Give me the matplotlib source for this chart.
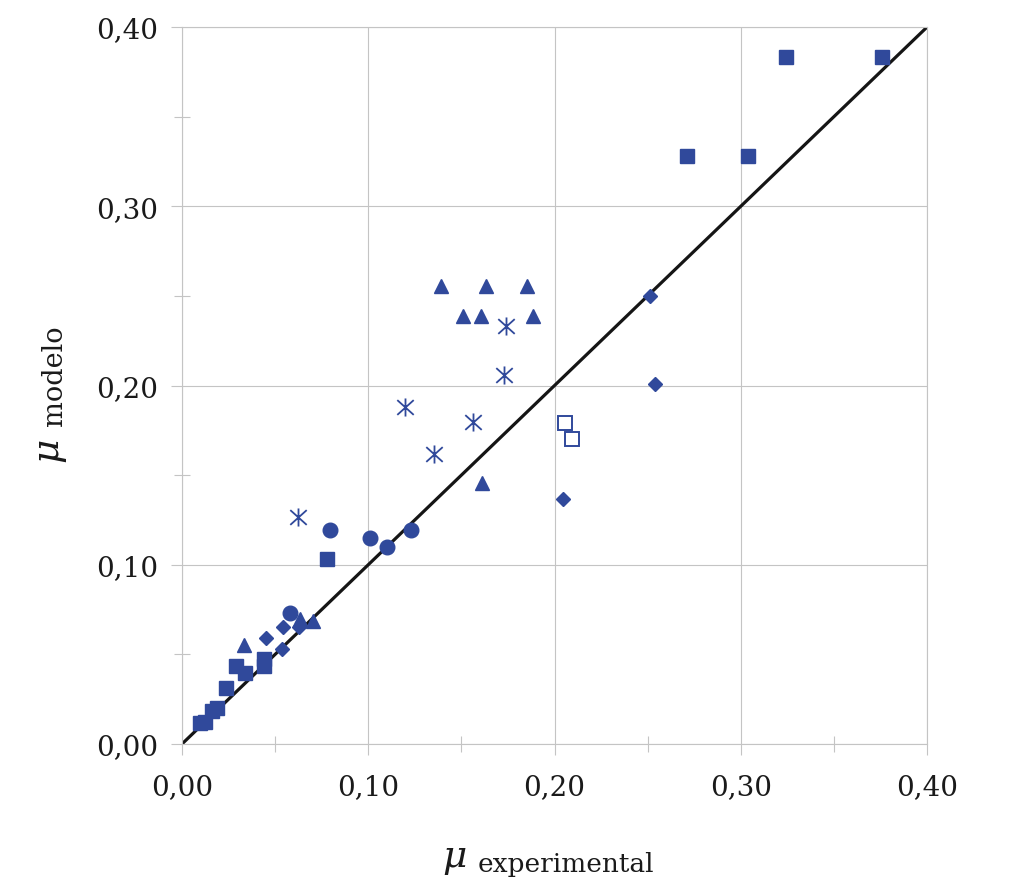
import matplotlib
matplotlib.use('Agg')
import matplotlib.pyplot as plt
from matplotlib.path import Path
from matplotlib.ticker import MultipleLocator

# data (mu experimental, mu modelo)
sq_x = [0.0097, 0.0123, 0.0161, 0.0188, 0.0236, 0.0290, 0.0338, 0.0440, 0.0440, 0.0779, 0.2711, 0.3039, 0.3243, 0.3758]
sq_y = [0.0117, 0.0123, 0.0184, 0.0201, 0.0312, 0.0435, 0.0396, 0.0474, 0.0435, 0.1032, 0.3280, 0.3280, 0.3833, 0.3833]

circ_x = [0.0580, 0.0795, 0.1009, 0.1101, 0.1230]
circ_y = [0.0731, 0.1194, 0.1149, 0.1099, 0.1194]

tri_x = [0.0333, 0.0634, 0.0703, 0.1391, 0.1632, 0.1852, 0.1509, 0.1605, 0.1885, 0.1611]
tri_y = [0.0552, 0.0697, 0.0686, 0.2555, 0.2555, 0.2555, 0.2388, 0.2388, 0.2388, 0.1456]

dia_x = [0.0451, 0.0542, 0.0537, 0.0628, 0.2046, 0.2513, 0.2540]
dia_y = [0.0591, 0.0653, 0.0530, 0.0653, 0.1367, 0.2499, 0.2008]

ast_x = [0.0623, 0.1197, 0.1353, 0.1562, 0.1729, 0.1740]
ast_y = [0.1266, 0.1880, 0.1618, 0.1796, 0.2059, 0.2332]

open_x = [0.2056, 0.2094]
open_y = [0.1791, 0.1702]

ident = [0.0, 0.40]
tick_vals = [0.0, 0.10, 0.20, 0.30, 0.40]
tick_labels = ['0,00', '0,10', '0,20', '0,30', '0,40']

blue = '#30499b'
grey = '#c4c4c4'
serif = 'DejaVu Serif'

# excel-style asterisk: X plus a vertical bar
star = Path([(-1, -0.9), (1, 0.9), (-1, 0.9), (1, -0.9), (0, -1.1), (0, 1.1)],
            [Path.MOVETO, Path.LINETO, Path.MOVETO, Path.LINETO, Path.MOVETO, Path.LINETO])

fig = plt.figure(figsize=(10.11, 8.95), dpi=100)
ax = fig.add_axes([0.18, 0.1676, 0.737, 0.8011])

ax.plot(ident, ident, color='#151515', lw=2.3, zorder=2, solid_capstyle='butt')

ax.plot(sq_x, sq_y, 's', ms=10, color=blue, mec=blue, zorder=3)
ax.plot(circ_x, circ_y, 'o', ms=10.5, color=blue, mec=blue, zorder=3)
ax.plot(tri_x, tri_y, '^', ms=10.5, color=blue, mec=blue, zorder=3)
ax.plot(dia_x, dia_y, 'D', ms=7, color=blue, mec=blue, zorder=3)
ax.plot(ast_x, ast_y, ls='none', marker=star, ms=13, mfc='none', mec=blue, mew=1.3, zorder=3)
ax.plot(open_x, open_y, 's', ms=9.5, mfc='white', mec=blue, mew=1.4, zorder=3)

ax.set_xlim(0, 0.40)
ax.set_ylim(0, 0.40)
ax.set_xticks(tick_vals)
ax.set_yticks(tick_vals)
ax.set_xticklabels(tick_labels)
ax.set_yticklabels(tick_labels)
ax.xaxis.set_minor_locator(MultipleLocator(0.05))
ax.yaxis.set_minor_locator(MultipleLocator(0.05))

ax.grid(True, which='major', color=grey, lw=0.8, zorder=0)
ax.set_axisbelow(True)
for s in ax.spines.values():
    s.set_color(grey)
    s.set_linewidth(0.8)

ax.tick_params(which='major', direction='out', length=8, width=0.8, color=grey,
               labelsize=20, labelcolor='#1a1a1a', pad=9)
ax.tick_params(which='minor', direction='inout', length=12, width=0.8, color=grey)
ax.tick_params(axis='x', which='major', pad=13)
for lab in ax.get_xticklabels() + ax.get_yticklabels():
    lab.set_family(serif)

# axis labels: big italic mu followed by the word
fig.text(442 / 1011, 1 - 867 / 895, '\u03bc', family=serif, style='italic', fontsize=27,
         color='#1a1a1a', ha='left', va='baseline')
fig.text(478 / 1011, 1 - 872 / 895, 'experimental', family=serif, fontsize=19,
         color='#1a1a1a', ha='left', va='baseline')
fig.text(57 / 1011, 1 - 462 / 895, '\u03bc', family=serif, style='italic', fontsize=27,
         color='#1a1a1a', rotation=90, ha='left', va='baseline', rotation_mode='anchor')
fig.text(62 / 1011, 1 - 426 / 895, 'modelo', family=serif, fontsize=19.5,
         color='#1a1a1a', rotation=90, ha='left', va='baseline', rotation_mode='anchor')

fig.savefig('out.png', dpi=100)
